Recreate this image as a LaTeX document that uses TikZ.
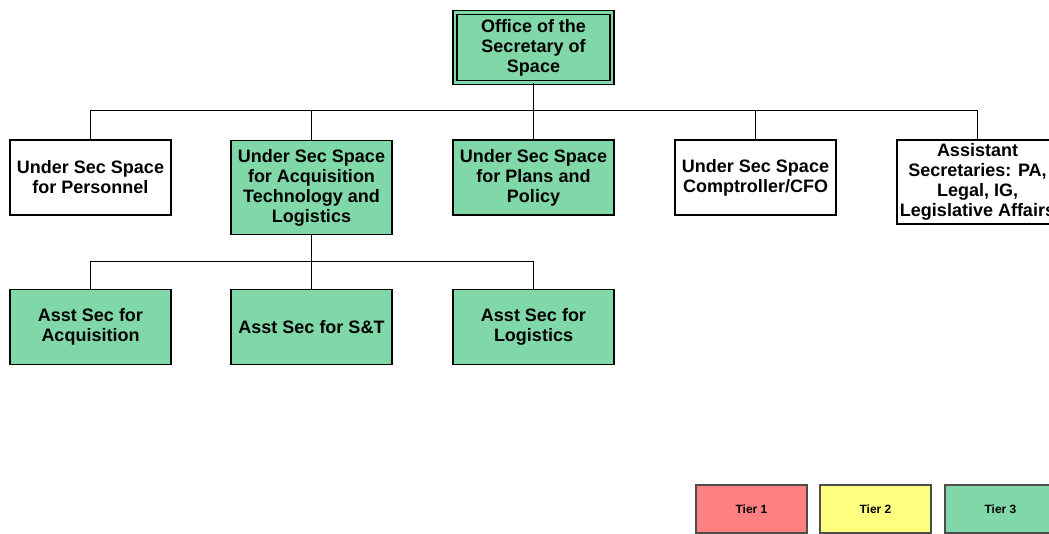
\documentclass[tikz,border=0pt]{standalone}
\usepackage{fontspec}
\setmainfont{Liberation Sans}
\definecolor{tgreen}{RGB}{128,216,168}
\definecolor{tred}{RGB}{255,128,128}
\definecolor{tyellow}{RGB}{255,255,128}
\begin{document}
\begin{tikzpicture}[x=0.75pt,y=-0.75pt,
  box/.style={draw=black, line width=1pt, align=center, inner sep=0pt,
    minimum width=120.75pt, minimum height=56.25pt,
    font=\fontsize{13.5}{15}\selectfont\bfseries},
  green/.style={fill=tgreen},
  tier/.style={draw=black!70, line width=0.8pt, inner sep=0pt,
    minimum width=83.25pt, minimum height=36pt,
    font=\fontsize{9}{11}\selectfont\bfseries},
  conn/.style={draw=black, line width=0.75pt}]
\useasboundingbox (0,0) rectangle (1049,534);
% top
\node[box, green, double=tgreen, double distance=2.2pt, line width=0.8pt,
  minimum width=117.75pt, minimum height=52.5pt] (top) at (533.5,47.5)
  {Office of the\\Secretary of\\Space};
% row 1
\node[box] (pers) at (90.5,177.5) {Under Sec Space\\for Personnel};
\node[box, green, minimum height=70.5pt] (acq) at (311.5,187.5)
  {Under Sec Space\\for Acquisition\\Technology and\\Logistics};
\node[box, green] (plans) at (533.5,177.5) {Under Sec Space\\for Plans and\\Policy};
\node[box] (comp) at (755.5,177.5) {Under Sec Space\\Comptroller/CFO};
\node[box, minimum height=63pt] (asst) at (977.5,182)
  {Assistant\\Secretaries: PA,\\Legal, IG,\\Legislative Affairs};
% row 2
\node[box, green] (aacq) at (90.5,327) {Asst Sec for\\Acquisition};
\node[box, green] (ast) at (311.5,327) {Asst Sec for S\&T};
\node[box, green] (alog) at (533.5,327) {Asst Sec for\\Logistics};
% connectors
\coordinate (bus1) at (533.5,111);
\coordinate (bus2) at (311.5,262);
\draw[conn] (top.south) -- (bus1);
\draw[conn] (pers.north) -- (pers.north |- bus1) -- (asst.north |- bus1) -- (asst.north);
\draw[conn] (acq.north) -- (acq.north |- bus1);
\draw[conn] (plans.north) -- (plans.north |- bus1);
\draw[conn] (comp.north) -- (comp.north |- bus1);
\draw[conn] (acq.south) -- (bus2);
\draw[conn] (aacq.north) -- (aacq.north |- bus2) -- (alog.north |- bus2) -- (alog.north);
\draw[conn] (ast.north) -- (ast.north |- bus2);
% legend
\node[tier, fill=tred] (t1) at (751.5,509) {Tier 1};
\node[tier, fill=tyellow] (t2) at (875.5,509) {Tier 2};
\node[tier, fill=tgreen] (t3) at (1000.5,509) {Tier 3};
\end{tikzpicture}
\end{document}
